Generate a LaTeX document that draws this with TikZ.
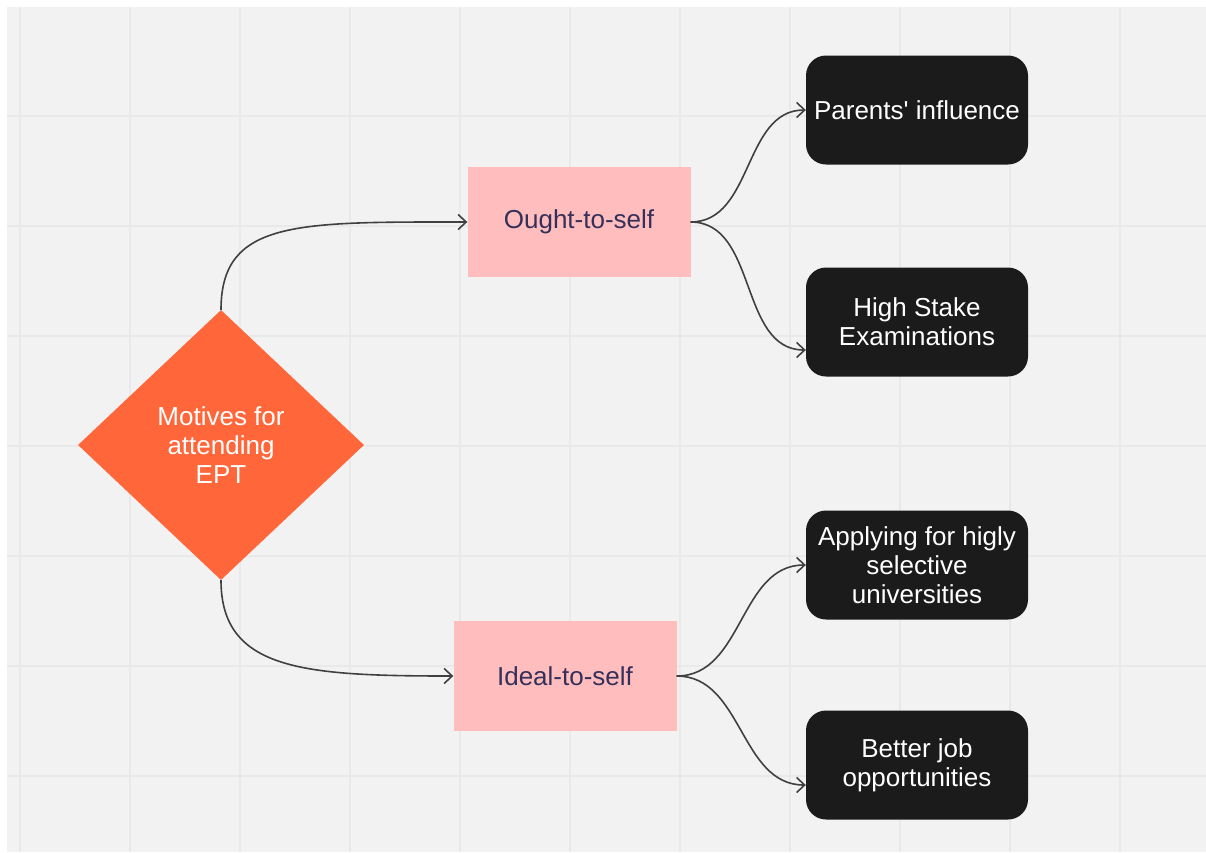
\documentclass[tikz,border=0pt]{standalone}
\usepackage{fontspec}
\setmainfont{Liberation Sans}
\usetikzlibrary{shapes.geometric,arrows.meta}
\definecolor{canvasgrey}{HTML}{F2F2F2}
\definecolor{gridgrey}{HTML}{E9E9E9}
\definecolor{motiveorange}{HTML}{FF663A}
\definecolor{selfpink}{HTML}{FFBDBD}
\definecolor{selfink}{HTML}{35305A}
\definecolor{reasonblack}{HTML}{1B1B1B}
\tikzstyle{every node}=[font=\fontsize{26}{29}\selectfont, inner sep=0pt, align=center]
\tikzstyle{motive}=[diamond, fill=motiveorange, text=white, minimum width=286, minimum height=270, aspect=1.06]
\tikzstyle{self}=[rectangle, fill=selfpink, text=selfink, minimum width=223, minimum height=110]
\tikzstyle{reason}=[rectangle, rounded corners=20, fill=reasonblack, text=white, minimum width=222, minimum height=109]
\tikzstyle{link}=[draw=black!75, line width=1.6, -{Straight Barb[length=8,width=15]}]

\begin{document}
\begin{tikzpicture}[x=1pt, y=-1pt]
  \useasboundingbox (0,0) rectangle (1206,852);
  \fill[white] (0,0) rectangle (1206,852);
  \fill[canvasgrey] (7,7) rectangle (1206,852);
  % grid
  \foreach \gx in {20,130,...,1120}
     \draw[gridgrey, line width=1.3] (\gx,7) -- (\gx,852);
  \foreach \gy in {116,226,...,776}
     \draw[gridgrey, line width=1.3] (7,\gy) -- (1206,\gy);

  \node[motive] (motives) at (221,445) {Motives for\\attending\\EPT};
  \node[self] (ought) at (579,222) {Ought-to-self};
  \node[self] (ideal) at (565,676) {Ideal-to-self};
  \node[reason] (parents) at (917,110) {Parents\textquotesingle{} influence};
  \node[reason] (exams) at (917,322) {High Stake\\Examinations};
  \node[reason] (univ) at (917,565) {Applying for higly\\selective\\universities};
  \node[reason] (jobs) at (917,765) {Better job\\opportunities};

  \draw[link] (motives.north) .. controls +(0,-90) and +(-170,0) .. (ought.west);
  \draw[link] (motives.south) .. controls +(0,90) and +(-150,0) .. (ideal.west);
  \draw[link] (ought.east) to[out=0, in=180] (parents.west);
  \draw[link] (ought.east) to[out=0, in=180] ([yshift=-28pt]exams.west);
  \draw[link] (ideal.east) to[out=0, in=180] (univ.west);
  \draw[link] (ideal.east) to[out=0, in=180] ([yshift=-20pt]jobs.west);
\end{tikzpicture}
\end{document}
